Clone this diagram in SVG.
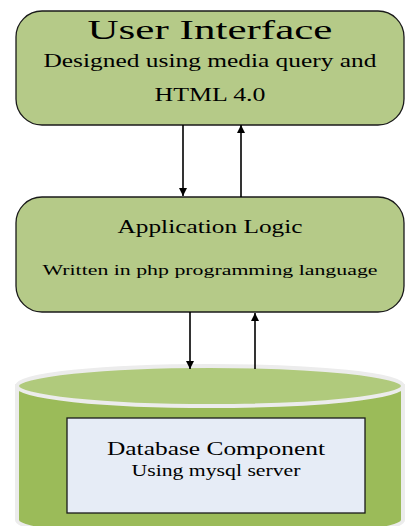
<svg xmlns="http://www.w3.org/2000/svg" width="406" height="526" viewBox="0 0 406 526">
  <defs>
    <marker id="arrow" viewBox="0 0 10 10" refX="10" refY="5" markerWidth="8" markerHeight="8" markerUnits="userSpaceOnUse" orient="auto">
      <path d="M0,0 L10,5 L0,10 Z" fill="#000"/>
    </marker>
  </defs>
  <style>
    .box { fill: #b5ca88; stroke: #1a1a1a; stroke-width: 1.3; }
    .t { font-family: "Liberation Serif", "Times New Roman", serif; fill: #000; text-anchor: middle; }
    .conn line { stroke: #000; stroke-width: 1.6; marker-end: url(#arrow); }
  </style>
  <rect width="406" height="526" fill="#fff"/>

  <!-- Presentation tier -->
  <g id="user-interface">
    <rect class="box" x="16" y="11" width="388" height="114" rx="26" ry="26"/>
    <text class="t" x="210" y="39" font-size="28" textLength="245" lengthAdjust="spacingAndGlyphs">User Interface</text>
    <text class="t" x="210" y="67" font-size="18.5" textLength="333" lengthAdjust="spacingAndGlyphs">Designed using media query and</text>
    <text class="t" x="210" y="101" font-size="18.5" textLength="111" lengthAdjust="spacingAndGlyphs">HTML 4.0</text>
  </g>

  <!-- Logic tier -->
  <g id="application-logic">
    <rect class="box" x="16" y="197" width="388" height="115" rx="26" ry="26"/>
    <text class="t" x="210" y="233" font-size="19.5" textLength="185" lengthAdjust="spacingAndGlyphs">Application Logic</text>
    <text class="t" x="210" y="275" font-size="15.5" textLength="335" lengthAdjust="spacingAndGlyphs">Written in php programming language</text>
  </g>

  <!-- Data tier -->
  <g id="database">
    <path d="M17,386 L17,520 A193,20 0 0 0 403,520 L403,386 Z" fill="#9bbb59" stroke="#ececec" stroke-width="4"/>
    <ellipse cx="210" cy="386" rx="193" ry="20" fill="#b0ca7c" stroke="#ececec" stroke-width="4"/>
    <rect x="67" y="418" width="298" height="95" fill="#e6ecf6" stroke="#1a1a1a" stroke-width="1.3"/>
    <text class="t" x="216" y="455" font-size="19.5" textLength="218" lengthAdjust="spacingAndGlyphs">Database Component</text>
    <text class="t" x="216" y="476" font-size="16" textLength="169" lengthAdjust="spacingAndGlyphs">Using mysql server</text>
  </g>

  <g id="connectors" class="conn">
    <line x1="183" y1="125" x2="183" y2="196"/>
    <line x1="241" y1="197" x2="241" y2="125"/>
    <line x1="190" y1="312" x2="190" y2="369"/>
    <line x1="255" y1="369" x2="255" y2="313"/>
  </g>
</svg>
